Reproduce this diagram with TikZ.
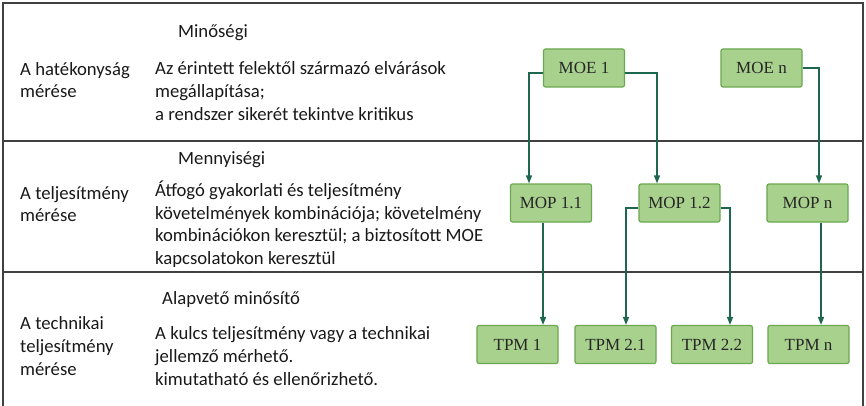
\documentclass[tikz,border=0pt]{standalone}
\usepackage{fontspec}
\setmainfont{Carlito}
\newfontfamily\boxfont{Liberation Serif}
\usetikzlibrary{arrows.meta}
\definecolor{boxfill}{RGB}{169,209,142}
\definecolor{boxline}{RGB}{106,168,79}
\definecolor{flowcol}{RGB}{31,102,80}
\tikzset{
  measure/.style={draw=boxline, fill=boxfill, line width=1.2pt, rounded corners=2pt,
    minimum width=81pt, minimum height=38pt, inner sep=0pt, text=black!85,
    font=\boxfont\fontsize{17}{20}\selectfont},
  flow/.style={draw=flowcol, line width=1.4pt, -{Triangle[length=8pt,width=6pt]}},
  rowtext/.style={anchor=west, align=left, inner sep=0pt, text=black!90,
    font=\fontsize{18.7}{22.6}\selectfont}
}
\begin{document}
\begin{tikzpicture}[x=1pt,y=-1pt]
  \useasboundingbox (0,0) rectangle (866,406);
  % Frame and rows:
  \draw[line width=1.3pt, black!75] (3,406) -- (3,3) -- (863,3) -- (863,406);
  \foreach \y in {141,272} \draw[line width=1.3pt, black!75] (3,\y) -- (863,\y);
  % Row texts:
  \node[rowtext] (minos) at (178,33) {Minőségi};
  \node[rowtext] (hatek) at (20,80) {A hatékonyság\\mérése};
  \node[rowtext] (hatekd) at (155,91) {Az érintett felektől származó elvárások\\megállapítása;\\a rendszer sikerét tekintve kritikus};
  \node[rowtext] (menny) at (178,160) {Mennyiségi};
  \node[rowtext] (telj) at (20,204) {A teljesítmény\\mérése};
  \node[rowtext] (teljd) at (155,224) {Átfogó gyakorlati és teljesítmény\\követelmények kombinációja; követelmény\\kombinációkon keresztül; a biztosított MOE\\kapcsolatokon keresztül};
  \node[rowtext] (alap) at (162,300) {Alapvető minősítő};
  \node[rowtext] (techn) at (20,346) {A technikai\\teljesítmény\\mérése};
  \node[rowtext] (technd) at (155,356) {A kulcs teljesítmény vagy a technikai\\jellemző mérhető.\\kimutatható és ellenőrizhető.};
  % Measures:
  \node[measure] (moe1) at (584,68) {MOE 1};
  \node[measure] (moen) at (761.5,68) {MOE n};
  \node[measure] (mop11) at (551,203) {MOP 1.1};
  \node[measure] (mop12) at (679.5,203) {MOP 1.2};
  \node[measure] (mopn) at (807.5,203) {MOP n};
  \node[measure] (tpm1) at (517.5,344.5) {TPM 1};
  \node[measure] (tpm21) at (615.5,344.5) {TPM 2.1};
  \node[measure] (tpm22) at (712,344.5) {TPM 2.2};
  \node[measure] (tpmn) at (808.5,344.5) {TPM n};
  % Links:
  \draw[flow] ([yshift=-5pt]moe1.west) -| ([xshift=-22pt]mop11.north);
  \draw[flow] ([yshift=-5pt]moe1.east) -| ([xshift=-22.5pt]mop12.north);
  \draw[flow] (moen.east) -| ([xshift=11.5pt]mopn.north);
  \draw[flow] ([xshift=-8pt]mop11.south) -- ([xshift=-8pt]mop11.south |- tpm1.north);
  \draw[flow] ([yshift=-5pt]mop12.west) -| ([xshift=10.5pt]tpm21.north);
  \draw[flow] ([yshift=-5pt]mop12.east) -| ([xshift=18pt]tpm22.north);
  \draw[flow] ([xshift=13.5pt]mopn.south) -- ([xshift=13.5pt]mopn.south |- tpmn.north);
\end{tikzpicture}
\end{document}
